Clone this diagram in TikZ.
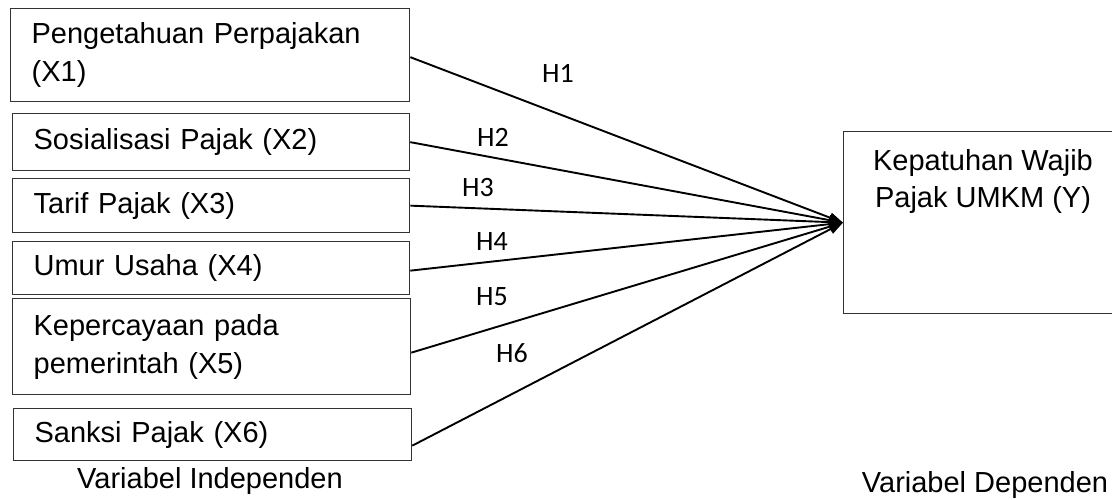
\documentclass[tikz,border=0pt]{standalone}
\usepackage{fontspec}
\setmainfont{Liberation Sans}
\newfontfamily\calib{Carlito}
\usetikzlibrary{arrows.meta}
\tikzset{
  varbox/.style={draw=black!80, line width=1.3pt, anchor=north west, inner xsep=21pt, inner ysep=0pt,
    align=left, font=\fontsize{29}{38}\selectfont},
  hlabel/.style={font=\calib\fontsize{28}{30}\selectfont, inner sep=0pt},
  arr/.style={line width=1.9pt, -{Triangle[length=14pt,width=10pt]}},
  plain/.style={font=\fontsize{29}{37}\selectfont, inner sep=0pt}
}
\begin{document}
\begin{tikzpicture}[x=1pt,y=-1pt]
\useasboundingbox (0,0) rectangle (1112,499);
% independent variable boxes
\node[varbox, text width=357pt, minimum height=93pt] (x1) at (10,8) {Pengetahuan Perpajakan\\(X1)};
\node[varbox, text width=355pt, minimum height=57pt] (x2) at (12,113) {Sosialisasi Pajak (X2)};
\node[varbox, text width=355pt, minimum height=54pt] (x3) at (12,178) {Tarif Pajak (X3)};
\node[varbox, text width=355pt, minimum height=53pt] (x4) at (12,241) {Umur Usaha (X4)};
\node[varbox, text width=356pt, minimum height=96pt] (x5) at (12,298) {Kepercayaan pada\\pemerintah (X5)};
\node[varbox, text width=356pt, minimum height=52pt] (x6) at (13,408) {Sanksi Pajak (X6)};
% dependent variable box
\node[draw=black!80, line width=1.3pt, anchor=north west, minimum width=282pt, minimum height=182pt, inner sep=0pt] (y) at (843,131) {};
\node[plain, align=center] (yt) at (983,181) {Kepatuhan Wajib\\Pajak UMKM (Y)};
% connectors
\draw[arr] ([yshift=-2pt]x1.east) -- (y.west);
\draw[arr] (x2.east) -- (y.west);
\draw[arr] (x3.east) -- (y.west);
\draw[arr] ([yshift=-2.5pt]x4.east) -- (y.west);
\draw[arr] ([yshift=-6pt]x5.east) -- (y.west);
\draw[arr] ([yshift=-11pt]x6.east) -- (y.west);
% hypothesis labels
\node[hlabel] (h1) at (558,73) {H1};
\node[hlabel] (h2) at (493,137) {H2};
\node[hlabel] (h3) at (478,188) {H3};
\node[hlabel] (h4) at (492,242) {H4};
\node[hlabel] (h5) at (492,297) {H5};
\node[hlabel] (h6) at (512,353) {H6};
% captions
\node[plain] (vi) at (210,481) {Variabel Independen};
\node[plain] (vd) at (985,485) {Variabel Dependen};
\end{tikzpicture}
\end{document}
